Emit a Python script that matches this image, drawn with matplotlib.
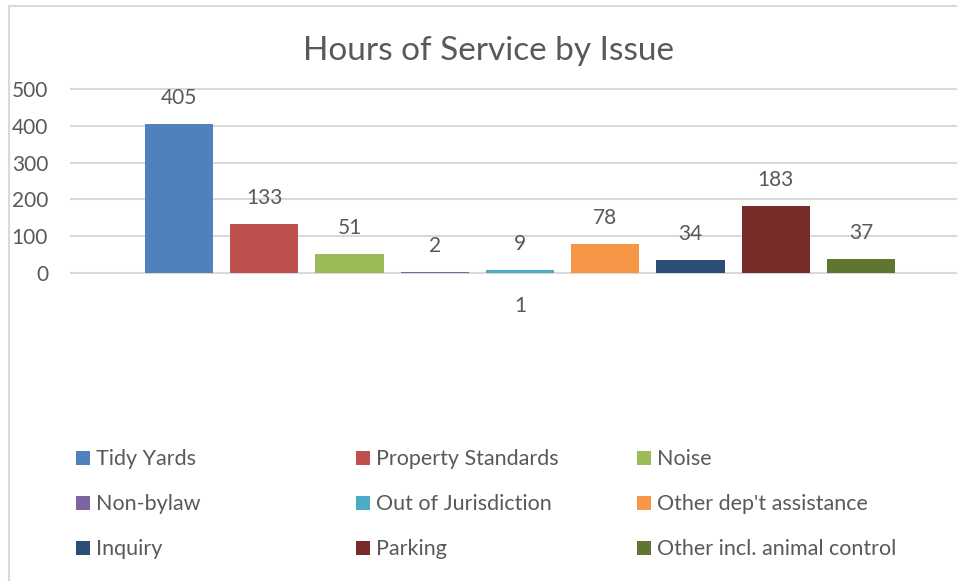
import matplotlib
matplotlib.use('Agg')

import matplotlib.pyplot as plt
from matplotlib.patches import Rectangle
from matplotlib.lines import Line2D

plt.rcParams['font.family'] = ['Lato', 'DejaVu Sans']

W, H = 957, 581
DPI = 100

title = 'Hours of Service by Issue'
category = '1'
issues = ['Tidy Yards', 'Property Standards', 'Noise',
          'Non-bylaw', 'Out of Jurisdiction', "Other dep't assistance",
          'Inquiry', 'Parking', 'Other incl. animal control']
hours = [405, 133, 51, 2, 9, 78, 34, 183, 37]
colors = ['#4F81BD', '#C0504D', '#9BBB59', '#8064A2', '#4BACC6',
          '#F79646', '#2C4D75', '#772C2A', '#5F7530']
yticks = [0, 100, 200, 300, 400, 500]

text_col = '#595959'
grid_col = '#D9D9D9'

fig = plt.figure(figsize=(W / DPI, H / DPI), dpi=DPI)

def px(x, y):
    # pixel position (from top-left) -> figure fraction
    return x / W, 1 - y / H

# plot area: x 71..957, y 89 (500) .. 273 (0)
l, b = px(71, 273)
r, t = px(957, 89)
ax = fig.add_axes([l, b, r - l, t - b])

step = 0.1
width = 0.08
n = len(hours)
for i, (name, v, c) in enumerate(zip(issues, hours, colors)):
    x = (i - (n - 1) / 2) * step
    ax.bar(x, v, width=width, color=c, label=name, zorder=2)
    ax.annotate(str(v), (x, v), xytext=(0, 18.8), textcoords='offset points',
                ha='center', va='center', fontsize=15, color=text_col)

# 1 unit = 852.5 px, centre of group at x=520 px
ax.set_xlim((71 - 520) / 852.5, (957 - 520) / 852.5)
ax.set_ylim(0, 500)
ax.set_yticks(yticks)
ax.set_xticks([0])
ax.set_xticklabels([category])
ax.tick_params(axis='both', length=0, labelsize=15, labelcolor=text_col)
ax.tick_params(axis='y', pad=16.5)
ax.tick_params(axis='x', pad=16.5)
for s in ax.spines.values():
    s.set_visible(False)
ax.set_axisbelow(True)
ax.yaxis.grid(True, color=grid_col, lw=1.5)
for gl in ax.get_ygridlines():
    gl.set_clip_on(False)

# title
tx, ty = px(488, 60)
fig.text(tx, ty, title, ha='center', va='baseline', fontsize=24, color=text_col)

# legend laid out like the reference: 3 columns, row-wise
col_x = [76, 356, 637]
row_y = [458, 503, 548]
for i, (name, c) in enumerate(zip(issues, colors)):
    cx = col_x[i % 3]
    cy = row_y[i // 3]
    x0, y0 = px(cx, cy + 7)
    fig.add_artist(Rectangle((x0, y0), 14 / W, 14 / H, transform=fig.transFigure,
                             facecolor=c, edgecolor='none'))
    lx, ly = px(cx + 20, cy + 1)
    fig.text(lx, ly, name, ha='left', va='center', fontsize=15.5, color=text_col)

# chart frame (left and top edges visible)
fig.add_artist(Line2D([8.5 / W, 8.5 / W], [0, 1 - 5.5 / H], transform=fig.transFigure,
                      color=grid_col, lw=1.5))
fig.add_artist(Line2D([8.5 / W, 1], [1 - 5.5 / H, 1 - 5.5 / H], transform=fig.transFigure,
                      color=grid_col, lw=1.5))

fig.savefig('out.png', dpi=DPI, facecolor='white')
